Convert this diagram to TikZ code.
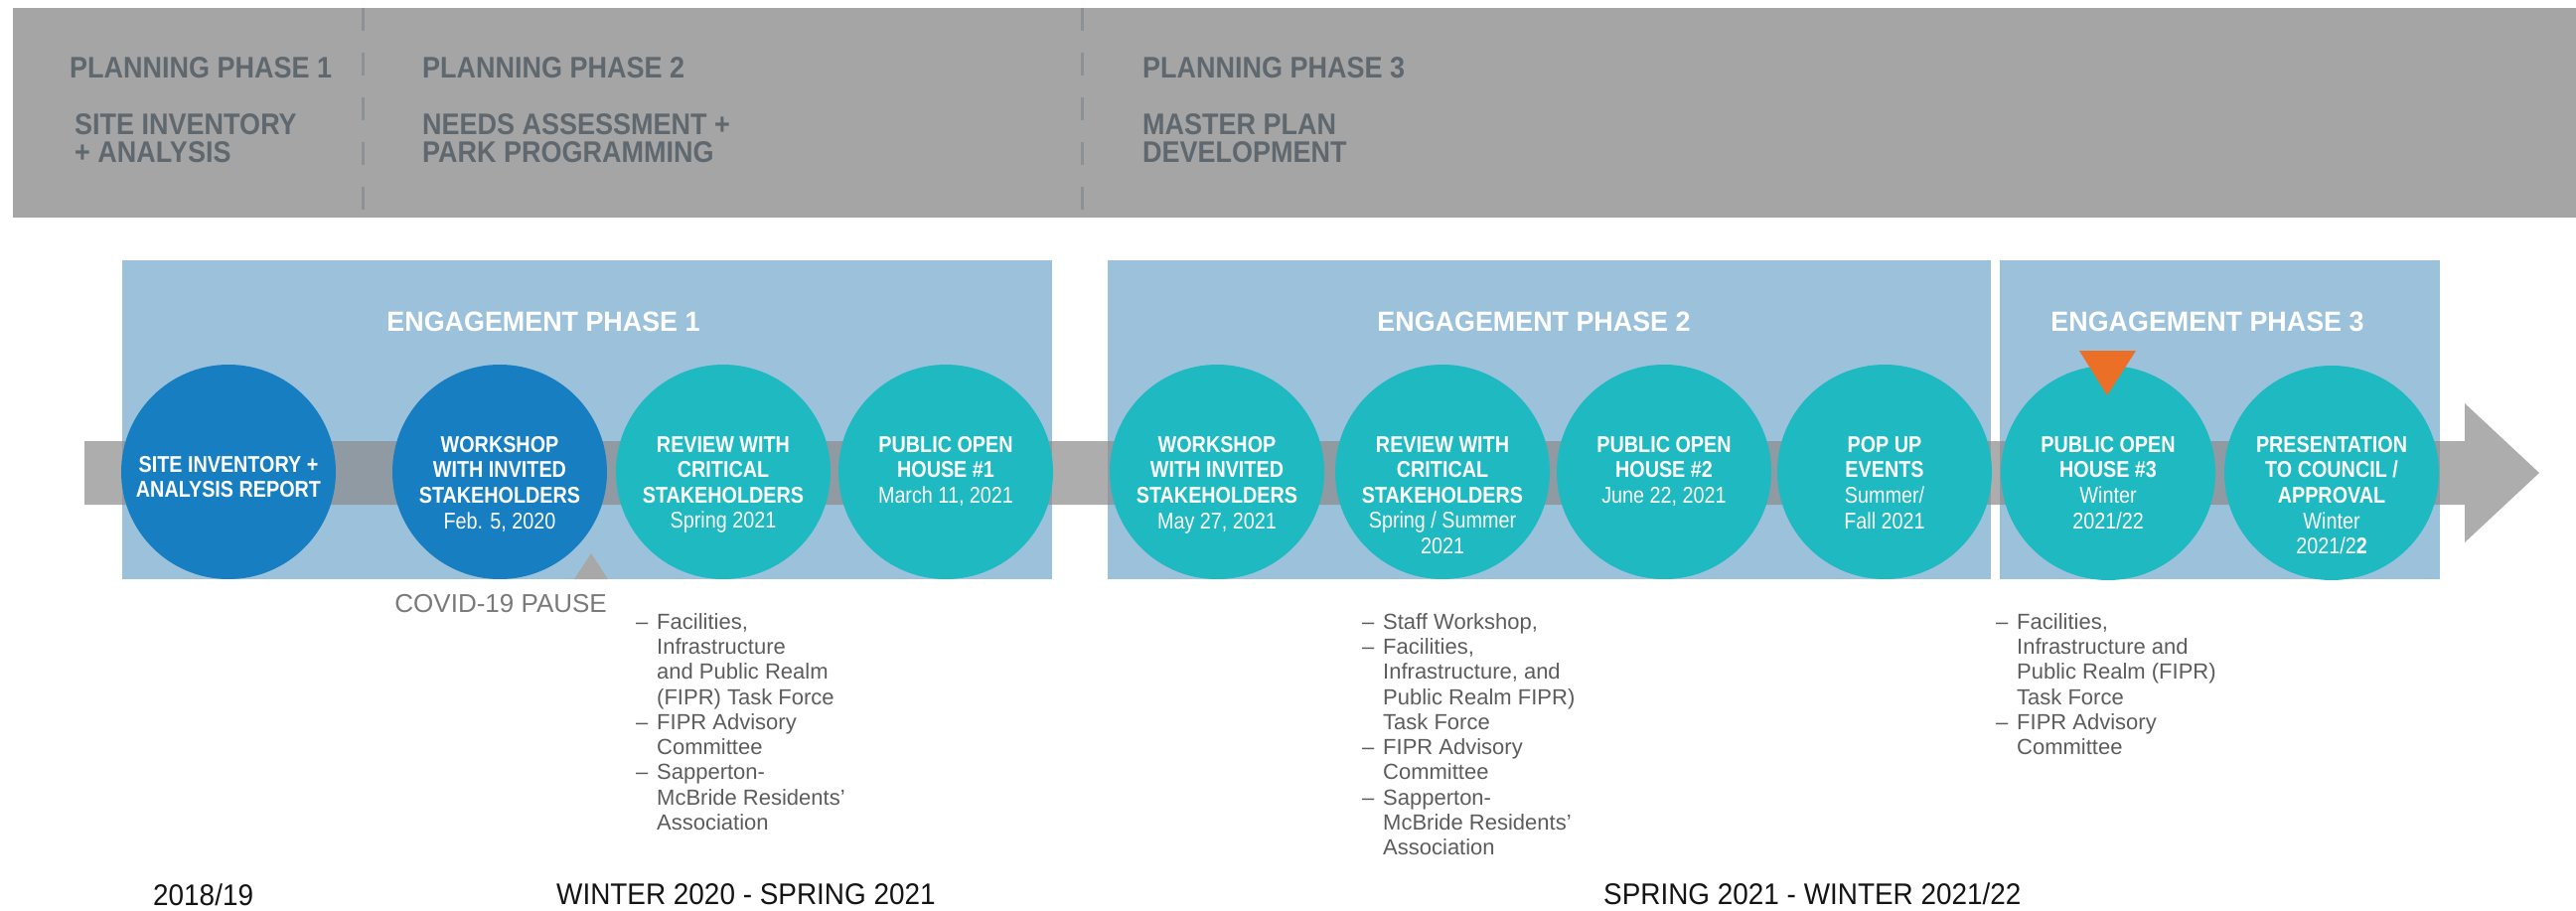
\documentclass[tikz,border=0pt]{standalone}
\usepackage{fontspec}
\setmainfont{Liberation Sans}
\newfontfamily\condf[FakeStretch=0.9]{Liberation Sans}
\newfontfamily\circf[FakeStretch=0.86]{Liberation Sans}
\newfontfamily\engf[FakeStretch=0.96]{Liberation Sans}
\newfontfamily\botf[FakeStretch=0.93]{Liberation Sans}
\newfontfamily\covf[FakeStretch=1.0]{Liberation Sans}
\definecolor{bandgray}{HTML}{A5A5A5}
\definecolor{dashgray}{HTML}{8C9196}
\definecolor{plantext}{HTML}{60686F}
\definecolor{boxblue}{HTML}{9CC2DB}
\definecolor{darkblue}{HTML}{177FC1}
\definecolor{tealc}{HTML}{1EB9C1}
\definecolor{shaftgray}{HTML}{8A8A8A}
\definecolor{orangec}{HTML}{EC6F27}
\definecolor{covidtext}{HTML}{7A7A7A}
\definecolor{covidtri}{HTML}{A8A8A8}
\definecolor{notegray}{HTML}{5C5C5C}
\definecolor{bottomtext}{HTML}{141414}
\tikzset{
  planhead/.style={font=\condf\bfseries\fontsize{30}{28}\selectfont, text=plantext, inner sep=0pt, anchor=north west, align=left},
  dashsep/.style={draw=dashgray, line width=3pt, dash pattern=on 23pt off 22pt},
  engbox/.style={fill=boxblue},
  engtitle/.style={font=\engf\bfseries\fontsize{28}{30}\selectfont, text=white, inner sep=0pt, anchor=base},
  evcircle/.style={circle, minimum size=216pt, inner sep=0pt},
  evtext/.style={font=\circf\bfseries\fontsize{23}{25.6}\selectfont, text=white, inner sep=0pt, anchor=north, align=center},
  notelist/.style={font=\fontsize{22}{25.3}\selectfont, text=notegray, inner sep=0pt, anchor=north west, align=left},
  bottomlabel/.style={font=\botf\fontsize{30}{32}\selectfont, text=bottomtext, inner sep=0pt, anchor=base west},
}
\newcommand{\dsh}{\makebox[21pt][l]{–}}
\newcommand{\ind}{\hspace*{21pt}}
\begin{document}
\begin{tikzpicture}[x=1pt,y=-1pt]
\useasboundingbox (0,0) rectangle (2593,917);
% planning band
\fill[bandgray] (13,8) rectangle (2593,219);
\draw[dashsep] (365,8) -- (365,219);
\draw[dashsep] (1089,8) -- (1089,219);
\node[planhead] (pp1) at (70,57) {PLANNING PHASE 1};
\node[planhead] (pp1b) at (75,114) {SITE INVENTORY\\+ ANALYSIS};
\node[planhead] (pp2) at (425,57) {PLANNING PHASE 2};
\node[planhead] (pp2b) at (425,114) {NEEDS ASSESSMENT +\\PARK PROGRAMMING};
\node[planhead] (pp3) at (1150,57) {PLANNING PHASE 3};
\node[planhead] (pp3b) at (1150,114) {MASTER PLAN\\DEVELOPMENT};
% engagement boxes
\fill[engbox] (123,262) rectangle (1059,583);
\fill[engbox] (1115,262) rectangle (2004,583);
\fill[engbox] (2013,262) rectangle (2456,583);
\node[engtitle] (e1) at (547,333) {ENGAGEMENT PHASE 1};
\node[engtitle] (e2) at (1544,333) {ENGAGEMENT PHASE 2};
\node[engtitle] (e3) at (2222,333) {ENGAGEMENT PHASE 3};
% timeline arrow
\fill[shaftgray, fill opacity=0.7] (85,444) -- (2481,444) -- (2481,406) -- (2556,476) -- (2481,546) -- (2481,508) -- (85,508) -- cycle;
% event circles
\node[evcircle, fill=darkblue] (c1) at (230,475) {};
\node[evcircle, fill=darkblue] (c2) at (503,475) {};
\node[evcircle, fill=tealc] (c3) at (728,475) {};
\node[evcircle, fill=tealc] (c4) at (952,475) {};
\node[evcircle, fill=tealc] (c5) at (1225,475) {};
\node[evcircle, fill=tealc] (c6) at (1452,475) {};
\node[evcircle, fill=tealc] (c7) at (1675,475) {};
\node[evcircle, fill=tealc] (c8) at (1897,475) {};
\node[evcircle, fill=tealc] (c9) at (2122,476) {};
\node[evcircle, fill=tealc] (c10) at (2347,476) {};
\node[evtext] (t1) at (230,459) {SITE INVENTORY +\\ANALYSIS REPORT};
\node[evtext] (t2) at (503,439) {WORKSHOP\\WITH INVITED\\STAKEHOLDERS\\{\mdseries Feb. 5, 2020}};
\node[evtext] (t3) at (728,439) {REVIEW WITH\\CRITICAL\\STAKEHOLDERS\\{\mdseries Spring 2021}};
\node[evtext] (t4) at (952,439) {PUBLIC OPEN\\HOUSE \#1\\{\mdseries March 11, 2021}};
\node[evtext] (t5) at (1225,439) {WORKSHOP\\WITH INVITED\\STAKEHOLDERS\\{\mdseries May 27, 2021}};
\node[evtext] (t6) at (1452,439) {REVIEW WITH\\CRITICAL\\STAKEHOLDERS\\{\mdseries Spring / Summer}\\{\mdseries 2021}};
\node[evtext] (t7) at (1675,439) {PUBLIC OPEN\\HOUSE \#2\\{\mdseries June 22, 2021}};
\node[evtext] (t8) at (1897,439) {POP UP\\EVENTS\\{\mdseries Summer/}\\{\mdseries Fall 2021}};
\node[evtext] (t9) at (2122,439) {PUBLIC OPEN\\HOUSE \#3\\{\mdseries Winter}\\{\mdseries 2021/22}};
\node[evtext] (t10) at (2347,439) {PRESENTATION\\TO COUNCIL /\\APPROVAL\\{\mdseries Winter}\\{\mdseries 2021/2}2};
% markers
\fill[orangec] (2093,353) -- (2150,353) -- (2121,398) -- cycle;
\fill[covidtri] (578,583) -- (612,583) -- (595,557) -- cycle;
\node[font=\covf\fontsize{26}{28}\selectfont, text=covidtext, inner sep=0pt, anchor=base east] (covid) at (611,616) {COVID-19 PAUSE};
% stakeholder lists
\node[notelist] (n1) at (640,617) {\dsh Facilities,\\\ind Infrastructure\\\ind and Public Realm\\\ind (FIPR) Task Force\\\dsh FIPR Advisory\\\ind Committee\\\dsh Sapperton-\\\ind McBride Residents’\\\ind Association};
\node[notelist] (n2) at (1371,617) {\dsh Staff Workshop,\\\dsh Facilities,\\\ind Infrastructure, and\\\ind Public Realm FIPR)\\\ind Task Force\\\dsh FIPR Advisory\\\ind Committee\\\dsh Sapperton-\\\ind McBride Residents’\\\ind Association};
\node[notelist] (n3) at (2009,617) {\dsh Facilities,\\\ind Infrastructure and\\\ind Public Realm (FIPR)\\\ind Task Force\\\dsh FIPR Advisory\\\ind Committee};
% period labels
\node[bottomlabel] (b1) at (154,911) {2018/19};
\node[bottomlabel] (b2) at (560,910) {WINTER 2020 - SPRING 2021};
\node[bottomlabel] (b3) at (1614,910) {SPRING 2021 - WINTER 2021/22};
\end{tikzpicture}
\end{document}
